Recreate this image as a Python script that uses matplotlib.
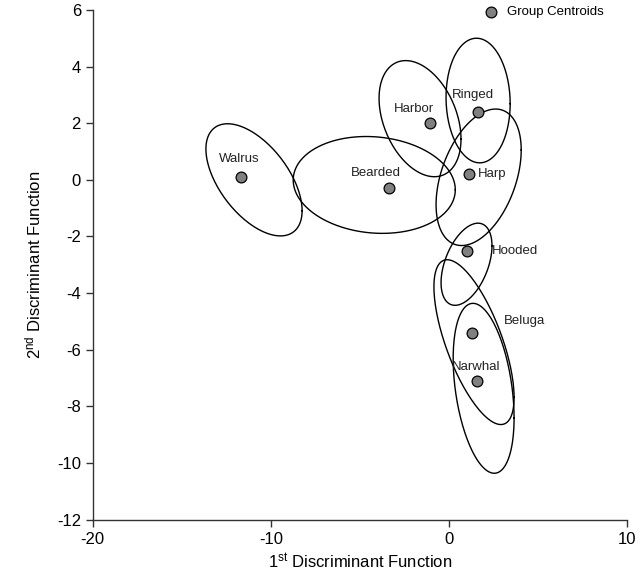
import numpy as np
import matplotlib
matplotlib.use("Agg")
import matplotlib.pyplot as plt

plt.rcParams["font.family"] = ["Liberation Sans", "DejaVu Sans"]
plt.rcParams["mathtext.default"] = "regular"
plt.rcParams["axes.unicode_minus"] = False

# group centroids on the two discriminant functions
groups = ["Walrus", "Bearded", "Harbor", "Ringed", "Harp", "Hooded", "Beluga", "Narwhal"]
df1 = [-11.7, -3.35, -1.05, 1.6, 1.1, 1.0, 1.3, 1.55]
df2 = [0.1, -0.3, 2.0, 2.4, 0.2, -2.5, -5.4, -7.1]

# label anchor positions and alignment
label_x = [-11.8, -4.1, -2.0, 1.35, 1.6, 2.4, 3.1, 1.5]
label_y = [0.75, 0.25, 2.5, 3.0, 0.2, -2.5, -5.0, -6.6]
label_ha = ["center", "center", "center", "center", "left", "left", "left", "center"]

# confidence ellipses: centre, half extents along each axis, correlation
ell_cx = [-10.95, -4.2, -1.63, 1.63, 1.66, 0.98, 1.4, 1.94]
ell_cy = [0.0, -0.18, 2.16, 2.8, 0.09, -2.98, -5.73, -7.36]
ell_sx = [2.7, 4.55, 2.3, 1.8, 2.39, 1.43, 2.25, 1.71]
ell_sy = [1.98, 1.71, 2.05, 2.2, 2.41, 1.45, 2.91, 3.0]
ell_rho = [-0.55, -0.1, -0.35, -0.05, 0.4, 0.45, -0.67, -0.35]


def ellipse_xy(cx, cy, sx, sy, rho, n=200):
    t = np.linspace(0, 2 * np.pi, n)
    x = cx + sx * np.cos(t)
    y = cy + sy * (rho * np.cos(t) + np.sqrt(1 - rho ** 2) * np.sin(t))
    return x, y


fig = plt.figure(figsize=(6.4, 5.82), dpi=100)
ax = fig.add_axes([0.145, 0.107, 0.835, 0.876])

for i in range(len(groups)):
    ex, ey = ellipse_xy(ell_cx[i], ell_cy[i], ell_sx[i], ell_sy[i], ell_rho[i])
    ax.plot(ex, ey, color="black", lw=1.0, zorder=2)

ax.scatter(df1, df2, s=60, c="#808080", edgecolors="black", linewidths=0.9,
           zorder=3, label="Group Centroids")

for i, name in enumerate(groups):
    ax.text(label_x[i], label_y[i], name, ha=label_ha[i], va="center",
            fontsize=9.5, color="#222222", zorder=4)

ax.legend(loc="upper left", bbox_to_anchor=(0.71, 1.018), frameon=False,
          fontsize=9.5, handletextpad=0.2, borderaxespad=0, markerscale=1.0)

ax.set_xlim(-20, 10)
ax.set_ylim(-12, 6)
ax.set_xticks([-20, -10, 0, 10])
ax.set_yticks(np.arange(-12, 7, 2))
ax.spines["top"].set_visible(False)
ax.spines["right"].set_visible(False)
for s in ["left", "bottom"]:
    ax.spines[s].set_color("#333333")
    ax.spines[s].set_linewidth(1.0)
ax.tick_params(direction="out", length=5, width=1.0, labelsize=12, colors="#333333",
               labelcolor="black")

ax.set_xlabel("1$^{st}$ Discriminant Function", fontsize=12, labelpad=4)
ax.set_ylabel("2$^{nd}$ Discriminant Function", fontsize=12, labelpad=10)

fig.savefig("out.png", dpi=100)
